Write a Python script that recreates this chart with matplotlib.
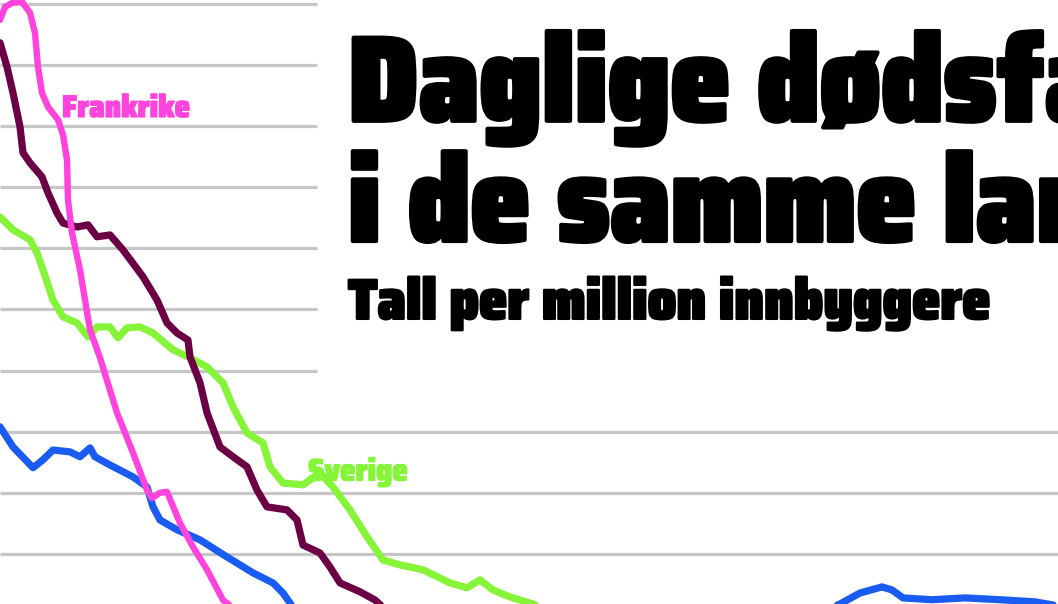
import matplotlib
matplotlib.use("Agg")
import matplotlib.pyplot as plt
import matplotlib.patheffects as pe
import matplotlib.font_manager as fm

# Daily deaths per million inhabitants (x: days into the window shown)
fr_days = [0.0, 0.5, 1.3, 2.2, 3.0, 3.5, 3.8, 4.2, 4.8, 5.8, 6.3, 6.7, 6.8, 7.2, 8.0,
           9.0, 10.0, 11.7, 13.3, 14.7, 15.2, 16.0, 16.7, 18.0, 19.3, 20.7, 22.3, 24.0]
fr_vals = [19.48, 19.9, 20.05, 20.07, 19.71, 19.05, 17.94, 17.09, 16.63, 16.21, 15.72, 14.9,
           13.59, 12.51, 11.3, 9.33, 8.42, 6.62, 5.31, 4.09, 3.83, 4.0, 4.03, 3.01, 2.23,
           1.48, 0.49, 0.05]

other_days = [0.0, 0.7, 1.3, 2.0, 2.3, 3.0, 4.2, 4.8, 5.7, 6.3, 7.7, 8.8, 9.7, 11.0, 12.3,
              14.3, 15.7, 16.7, 17.7, 18.8, 19.0, 20.0, 20.7, 22.0, 23.3, 24.7, 25.7, 26.7,
              28.7, 29.7, 30.3, 32.0, 33.0, 34.0, 36.0, 37.5, 39.0]
other_vals = [18.73, 17.94, 17.09, 15.98, 15.13, 14.8, 14.34, 13.82, 13.16, 12.83, 12.7,
              12.77, 12.38, 12.44, 11.95, 11.07, 10.31, 9.56, 9.23, 9.0, 8.45, 7.6, 6.62,
              5.5, 5.18, 4.85, 4.09, 3.54, 3.44, 3.11, 2.29, 2.03, 1.57, 1.05, 0.76, 0.49,
              0.05]

se_days = [0.0, 1.3, 3.0, 3.7, 4.3, 5.3, 6.3, 7.7, 8.8, 9.7, 11.0, 11.8, 12.7, 14.0, 15.3,
           17.3, 19.0, 20.7, 22.3, 23.3, 24.7, 26.3, 27.0, 28.3, 30.3, 32.0, 33.3, 35.0,
           36.7, 38.3, 40.0, 42.3, 45.0, 46.7, 48.0, 49.3, 51.0, 53.3, 55.5]
se_vals = [13.03, 12.61, 12.28, 11.85, 11.3, 10.31, 9.76, 9.56, 9.1, 9.43, 9.43, 9.07, 9.4,
           9.43, 9.23, 8.68, 8.42, 8.12, 7.6, 6.81, 5.96, 5.63, 4.85, 4.32, 4.26, 4.65, 4.19,
           3.44, 2.56, 1.8, 1.64, 1.48, 1.05, 0.89, 1.15, 0.82, 0.59, 0.36, 0.05]

blue_days = [0.0, 1.3, 3.3, 4.3, 5.3, 7.0, 8.0, 9.0, 9.5, 11.0, 13.3, 14.7, 15.3, 16.0,
             17.7, 20.0, 22.7, 25.3, 27.3, 28.3, 29.2, 30.0, 45.0, 65.0, 82.0, 84.0, 86.0,
             88.2, 89.2, 90.3, 93.2, 96.5, 100.0, 103.5, 105.8]
blue_vals = [6.16, 5.5, 4.82, 5.08, 5.4, 5.34, 5.18, 5.47, 5.18, 4.91, 4.52, 4.19, 3.54,
             3.11, 2.79, 2.46, 1.9, 1.38, 1.05, 0.72, 0.3, 0.05, 0.08, 0.1, 0.1, 0.36, 0.72,
             0.92, 0.82, 0.56, 0.5, 0.56, 0.5, 0.43, 0.3]

grid_short = [8, 10, 12, 14, 16, 18, 20]
grid_long = [2, 4, 6]

PINK = '#ff44dd'
MAROON = '#6b0045'
GREEN = '#86f53a'
BLUE = '#1a5cf2'
GRID = '#c6c6c6'


def weight_num(w):
    if isinstance(w, (int, float)):
        return int(w)
    return {'normal': 400, 'regular': 400, 'medium': 500, 'semibold': 600, 'demibold': 600,
            'bold': 700, 'extra bold': 800, 'heavy': 800, 'black': 900}.get(str(w).lower(), 400)


# look for a narrow / condensed face, heaviest first
cands = []
for f in fm.fontManager.ttflist:
    tag = (f.name + ' ' + str(f.stretch) + ' ' + f.fname).lower()
    if ('narrow' in tag or 'condensed' in tag) and f.style == 'normal':
        cands.append((weight_num(f.weight), f.fname))
cands.sort(reverse=True)

if cands:
    head_fp = fm.FontProperties(fname=cands[0][1])
    scale = 1.0
else:
    head_fp = fm.FontProperties(family='DejaVu Sans', weight='bold')
    scale = 0.82


def thick(w, c='black'):
    return [pe.withStroke(linewidth=w, foreground=c)]


fig = plt.figure(figsize=(10.58, 6.04), dpi=100)
ax = fig.add_axes([0, 0, 1, 1])
ax.set_xlim(0, 105.8)
ax.set_ylim(0.36, 20.13)
ax.axis('off')

ax.hlines(grid_short, 0, 31.7, color=GRID, lw=2.3, zorder=1)
ax.hlines(grid_long, 0, 105.8, color=GRID, lw=2.3, zorder=1)

lw = 5.2
ax.plot(blue_days, blue_vals, color=BLUE, lw=lw, solid_capstyle='round',
        solid_joinstyle='round', zorder=2)
ax.plot(se_days, se_vals, color=GREEN, lw=lw, solid_capstyle='round',
        solid_joinstyle='round', zorder=3)
ax.plot(other_days, other_vals, color=MAROON, lw=lw, solid_capstyle='round',
        solid_joinstyle='round', zorder=4)
ax.plot(fr_days, fr_vals, color=PINK, lw=4.6, solid_capstyle='round',
        solid_joinstyle='round', zorder=5)

ax.text(6.2, 16.3, 'Frankrike', color=PINK, fontproperties=head_fp, fontsize=22.5 * scale,
        va='baseline', ha='left', zorder=6, path_effects=thick(0.8, PINK))
ax.text(30.8, 4.4, 'Sverige', color=GREEN, fontproperties=head_fp, fontsize=22.5 * scale,
        va='baseline', ha='left', zorder=6, path_effects=thick(0.8, GREEN))

fig.text(0.329, 0.800, 'Daglige dødsfall', fontproperties=head_fp, fontsize=87 * scale,
         color='black', va='baseline', ha='left', path_effects=thick(3))
fig.text(0.329, 0.601, 'i de samme landene', fontproperties=head_fp, fontsize=87 * scale,
         color='black', va='baseline', ha='left', path_effects=thick(3))
fig.text(0.329, 0.472, 'Tall per million innbyggere', fontproperties=head_fp,
         fontsize=41 * scale, color='black', va='baseline', ha='left',
         path_effects=thick(1.6))

fig.savefig('out.png', dpi=100, facecolor='white')
